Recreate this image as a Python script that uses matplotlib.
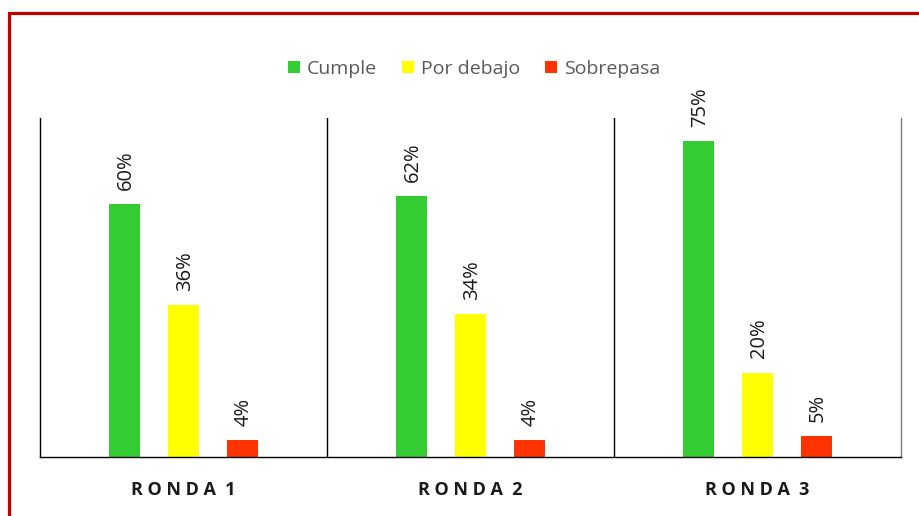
import matplotlib
matplotlib.use("Agg")
import matplotlib.pyplot as plt
import matplotlib.patches as mpatches
import numpy as np

rondas = ["R O N D A  1", "R O N D A  2", "R O N D A  3"]
series = ["Cumple", "Por debajo", "Sobrepasa"]
cumple = [60, 62, 75]
por_debajo = [36, 34, 20]
sobrepasa = [4, 4, 5]
colors = ["#33CC33", "#FFFF00", "#FF3300"]

plt.rcParams["font.family"] = ["Open Sans", "DejaVu Sans"]

fig = plt.figure(figsize=(9.2, 5.16), dpi=100)
ax = fig.add_axes([40 / 920, 1 - 457 / 516, (901 - 40) / 920, (457 - 118) / 516])

x = np.arange(len(rondas))
offsets = [-0.205, 0.0, 0.205]
width = 0.108
handles = []
for vals, off, col, name in zip([cumple, por_debajo, sobrepasa], offsets, colors, series):
    bars = ax.bar(x + off, vals, width=width, color=col, label=name, zorder=2)
    handles.append(bars)
    for b, v in zip(bars, vals):
        ax.text(b.get_x() + b.get_width() / 2 + 0.004, v + 3.4, f"{v}%",
                rotation=90, ha="center", va="bottom", fontsize=14.5,
                color="#1a1a1a")

ax.set_xlim(-0.5, 2.5)
ax.set_ylim(0, 80.5)
ax.set_yticks([])
ax.set_xticks([])
ax.spines["top"].set_visible(False)
ax.spines["left"].set_color("black")
ax.spines["bottom"].set_color("black")
ax.spines["right"].set_color("#7f7f7f")
for s in ["left", "bottom", "right"]:
    ax.spines[s].set_linewidth(1.0)
for d in [0.5, 1.5]:
    ax.axvline(d, color="black", lw=1.0, zorder=1)

for xi, lab in zip(x, rondas):
    ax.text(xi, -0.097, lab, transform=ax.get_xaxis_transform(), ha="center",
            va="center", fontsize=13, fontweight="bold", color="#1a1a1a")

fig.legend(handles=handles, labels=series, loc="center",
           bbox_to_anchor=(474 / 920, 1 - 69 / 516), ncol=3, frameon=False,
           handlelength=0.62, handleheight=0.62, handletextpad=0.35,
           columnspacing=1.3, fontsize=14, labelcolor="#595959")

# red frame around the chart area
frame = mpatches.Rectangle((9.5 / 920, -0.05), 1.1, 1 - 12.5 / 516 + 0.05,
                           transform=fig.transFigure, fill=False,
                           edgecolor="#C00000", lw=2.3, clip_on=False)
fig.patches.append(frame)

fig.savefig("out.png", dpi=100)
